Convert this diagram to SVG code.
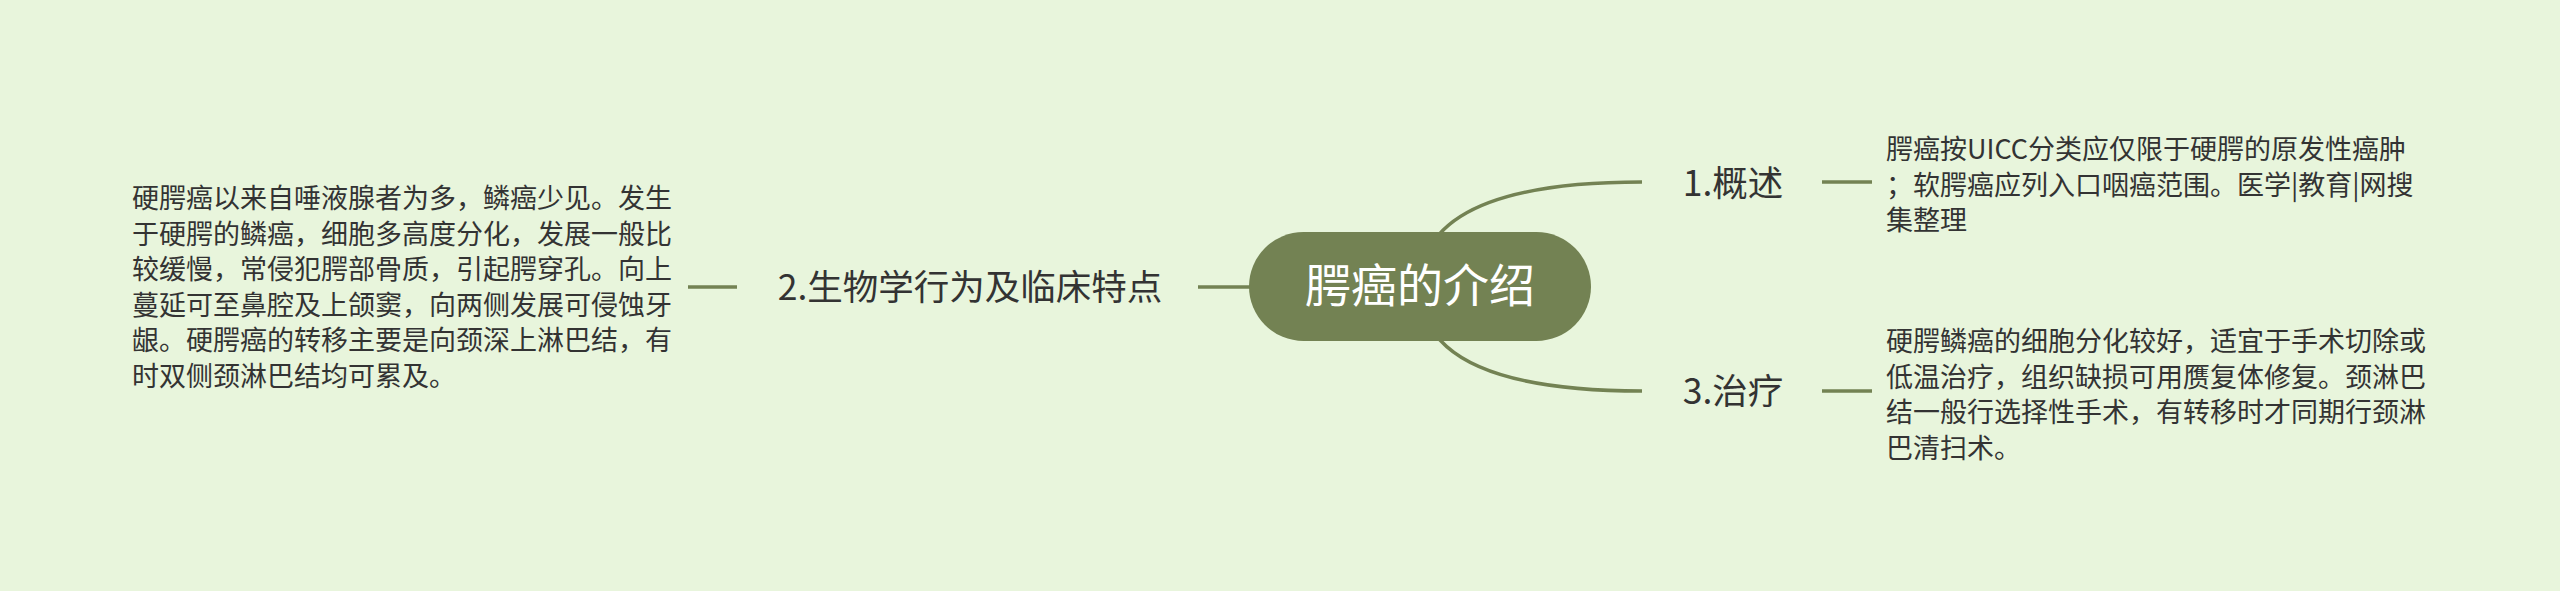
<svg xmlns="http://www.w3.org/2000/svg" width="2560" height="591" viewBox="0 0 2560 591">
<style>
.t{font-family:"Noto Sans CJK SC","Noto Sans",sans-serif;fill:#333333}
.l1{font-size:35.5px}
.d{font-size:27px}
.c{font-family:"Noto Sans CJK SC","Noto Sans",sans-serif;font-size:46px;fill:#ffffff}
.con{fill:none;stroke:#738253;stroke-width:3.5}
.sh{fill:none;stroke:#738253;stroke-width:3.5}
</style>
<rect width="2560" height="591" fill="#e8f5dc"/>
<g id="connectors">
<path class="con" d="M1420,287 Q1420,182 1642,182"/>
<path class="con" d="M1420,287 Q1420,391 1642,391"/>
<line class="sh" x1="1198" y1="287" x2="1260" y2="287"/>
<line class="sh" x1="688" y1="287" x2="737" y2="287"/>
<line class="sh" x1="1822" y1="182" x2="1872" y2="182"/>
<line class="sh" x1="1822" y1="391" x2="1872" y2="391"/>
</g>
<g id="root">
<rect x="1249" y="232" width="342" height="109" rx="54.5" fill="#738253"/>
<text class="c" x="1420" y="302" text-anchor="middle">腭癌的介绍</text>
</g>
<g id="n1">
<text class="t l1" x="1733" y="196" text-anchor="middle">1.概述</text>
</g>
<g id="n1d">
<text class="t d"><tspan x="1886" y="159">腭癌按UICC分类应仅限于硬腭的原发性癌肿</tspan><tspan x="1886" y="194.5">；软腭癌应列入口咽癌范围。医学|教育|网搜</tspan><tspan x="1886" y="230">集整理</tspan></text>
</g>
<g id="n2">
<text class="t l1" x="970" y="300" text-anchor="middle">2.生物学行为及临床特点</text>
</g>
<g id="n2d">
<text class="t d"><tspan x="132" y="208">硬腭癌以来自唾液腺者为多，鳞癌少见。发生</tspan><tspan x="132" y="243.5">于硬腭的鳞癌，细胞多高度分化，发展一般比</tspan><tspan x="132" y="279">较缓慢，常侵犯腭部骨质，引起腭穿孔。向上</tspan><tspan x="132" y="314.5">蔓延可至鼻腔及上颌窦，向两侧发展可侵蚀牙</tspan><tspan x="132" y="350">龈。硬腭癌的转移主要是向颈深上淋巴结，有</tspan><tspan x="132" y="385.5">时双侧颈淋巴结均可累及。</tspan></text>
</g>
<g id="n3">
<text class="t l1" x="1733" y="404" text-anchor="middle">3.治疗</text>
</g>
<g id="n3d">
<text class="t d"><tspan x="1886" y="351">硬腭鳞癌的细胞分化较好，适宜于手术切除或</tspan><tspan x="1886" y="386.5">低温治疗，组织缺损可用赝复体修复。颈淋巴</tspan><tspan x="1886" y="422">结一般行选择性手术，有转移时才同期行颈淋</tspan><tspan x="1886" y="457.5">巴清扫术。</tspan></text>
</g>
</svg>
